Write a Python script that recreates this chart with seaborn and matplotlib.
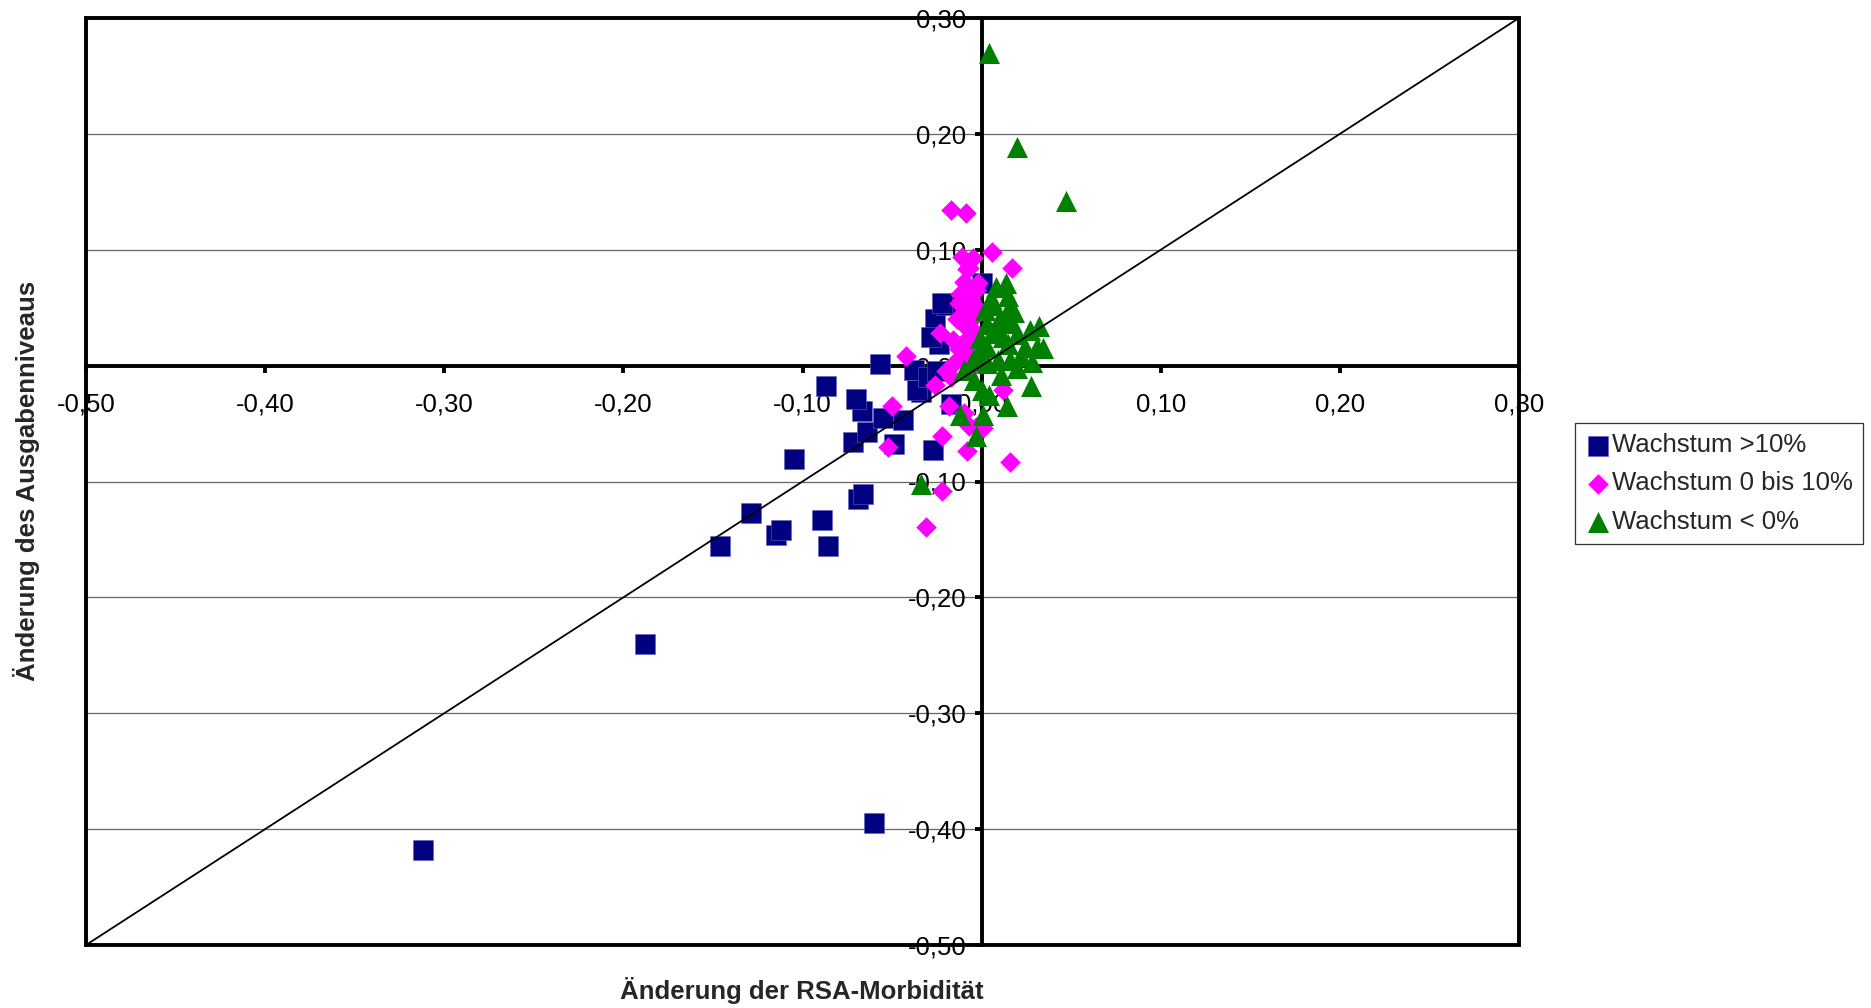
import numpy as np
import pandas as pd
import matplotlib
matplotlib.use("Agg")
import matplotlib.pyplot as plt
from matplotlib.patches import Rectangle
from matplotlib.ticker import FuncFormatter
import seaborn as sns

OUT_PATH = "out.png"

# Wachstum >10%
blue_x = [-0.312, -0.060, -0.188, -0.146, -0.129, -0.115, -0.112, -0.089, -0.086,
          -0.069, -0.066, -0.105, -0.072, -0.064, -0.049, -0.044, -0.055, -0.067,
          -0.070, -0.087, -0.057, -0.027, -0.026, -0.020, -0.024, -0.034, -0.038,
          0.000, -0.022, -0.017, -0.036, -0.028, -0.030, -0.025]
blue_y = [-0.418, -0.395, -0.240, -0.156, -0.127, -0.146, -0.142, -0.133, -0.156,
          -0.115, -0.111, -0.081, -0.066, -0.057, -0.068, -0.047, -0.045, -0.039,
          -0.029, -0.018, 0.001, -0.073, 0.040, 0.052, 0.019, -0.023, -0.004,
          0.071, 0.054, -0.033, -0.021, 0.025, -0.010, -0.005]

# Wachstum 0 bis 10%
pink_x = [-0.017, -0.009, 0.006, 0.017, -0.011, -0.005, -0.007, -0.008, -0.010,
          -0.003, -0.002, -0.006, -0.0125, -0.008, -0.014, -0.010, -0.023, -0.016,
          -0.009, -0.0125, -0.006, -0.004, -0.002, -0.011, -0.005, -0.042, -0.026,
          -0.050, -0.018, -0.052, -0.022, -0.008, -0.003, 0.001, -0.007, 0.012,
          0.016, -0.022, -0.031, -0.010, -0.020, -0.015, -0.017, -0.004, -0.012,
          -0.007, -0.001]
pink_y = [0.134, 0.132, 0.098, 0.084, 0.094, 0.093, 0.084, 0.083, 0.072,
          0.065, 0.071, 0.057, 0.054, 0.047, 0.040, 0.035, 0.028, 0.022,
          0.022, 0.014, 0.010, 0.030, 0.045, 0.005, 0.000, 0.008, -0.017,
          -0.035, -0.035, -0.070, -0.061, -0.074, -0.053, -0.054, -0.052, -0.021,
          -0.083, -0.108, -0.139, -0.041, -0.005, 0.003, -0.010, 0.052, 0.062,
          0.038, 0.020]

# Wachstum < 0%
green_x = [0.004, 0.020, 0.047, 0.0136, 0.008, 0.0145, 0.002, 0.015, 0.008,
           0.032, 0.027, 0.020, 0.024, 0.0145, 0.003, -0.002, 0.031, 0.016,
           0.009, 0.034, 0.018, 0.0275, 0.014, 0.001, -0.012, -0.003, -0.004,
           -0.010, 0.003, 0.020, 0.000, -0.034, 0.005, 0.010, 0.012, 0.006,
           0.003, 0.022, 0.011, 0.028, -0.005, 0.007, 0.017, 0.004, -0.001]
green_y = [0.270, 0.189, 0.142, 0.071, 0.068, 0.060, 0.048, 0.048, 0.034,
           0.034, 0.031, 0.027, 0.016, 0.019, 0.016, 0.011, 0.016, 0.005,
           0.005, 0.015, 0.046, -0.018, -0.035, -0.043, -0.043, -0.061, -0.012,
           -0.004, 0.002, -0.002, -0.021, -0.102, 0.058, 0.040, 0.025, 0.028,
           0.036, 0.008, -0.008, 0.003, 0.005, 0.052, 0.037, -0.025, 0.024]

series_labels = ["Wachstum >10%", "Wachstum 0 bis 10%", "Wachstum < 0%"]
axis_ticks = [-0.5, -0.4, -0.3, -0.2, -0.1, 0.0, 0.1, 0.2, 0.3]
diag = [-0.5, 0.3]


def fmt(v, pos=None):
    return f"{v + 0.0:.2f}".replace(".", ",").replace("-0,00", "0,00")


def main():
    sns.set_theme(style="white")
    plt.rcParams["font.family"] = ["Liberation Sans", "DejaVu Sans"]

    fig = plt.figure(figsize=(18.71, 10.08), dpi=100)
    ax = fig.add_axes([86 / 1871, 1 - 945 / 1008, (1519 - 86) / 1871, (945 - 18) / 1008])

    df_b = pd.DataFrame({"x": blue_x, "y": blue_y})
    df_p = pd.DataFrame({"x": pink_x, "y": pink_y})
    df_g = pd.DataFrame({"x": green_x, "y": green_y})

    sns.scatterplot(data=df_b, x="x", y="y", marker="s", s=200, color="#000080",
                    edgecolor="#6060c0", linewidth=0.4, label=series_labels[0],
                    ax=ax, zorder=3)
    sns.scatterplot(data=df_p, x="x", y="y", marker="D", s=110, color="#ff00ff",
                    edgecolor="#ff00ff", linewidth=0, label=series_labels[1],
                    ax=ax, zorder=4)
    sns.scatterplot(data=df_g, x="x", y="y", marker="^", s=230, color="#008000",
                    edgecolor="#008000", linewidth=0, label=series_labels[2],
                    ax=ax, zorder=5)

    sns.lineplot(x=diag, y=diag, color="black", lw=1.3, ax=ax, zorder=6,
                 legend=False)

    ax.set_xlim(-0.5, 0.3)
    ax.set_ylim(-0.5, 0.3)
    ax.set_xticks(axis_ticks)
    ax.set_yticks(axis_ticks)
    ax.xaxis.set_major_formatter(FuncFormatter(fmt))
    ax.yaxis.set_major_formatter(FuncFormatter(fmt))

    # horizontal gridlines only
    ax.yaxis.grid(True, color="#666666", lw=0.9)
    ax.xaxis.grid(False)
    ax.set_axisbelow(True)

    # axes crossing at zero
    ax.spines["left"].set_position("zero")
    ax.spines["bottom"].set_position("zero")
    ax.spines["top"].set_visible(False)
    ax.spines["right"].set_visible(False)
    for sp in ["left", "bottom"]:
        ax.spines[sp].set_linewidth(2.8)
        ax.spines[sp].set_color("black")
        ax.spines[sp].set_zorder(2)
    ax.tick_params(axis="both", which="major", direction="out", length=5,
                   width=2.8, color="black", labelsize=18.5, labelcolor="black")
    ax.tick_params(axis="x", pad=14)
    ax.tick_params(axis="y", pad=6)
    ax.tick_params(bottom=True, left=True)

    # outer frame
    ax.add_patch(Rectangle((0, 0), 1, 1, transform=ax.transAxes, fill=False,
                           lw=2.8, edgecolor="black", clip_on=False, zorder=7))

    ax.set_xlabel("")
    ax.set_ylabel("")
    fig.text(802 / 1871, 1 - 990 / 1008, "Änderung der RSA-Morbidität",
             ha="center", va="center", fontsize=18.5, fontweight="bold")
    fig.text(27 / 1871, 1 - 481 / 1008, "Änderung des Ausgabenniveaus",
             ha="center", va="center", rotation=90, fontsize=18.5, fontweight="bold")

    leg = ax.legend(loc="upper left", bbox_to_anchor=(1575 / 1871, 1 - 423 / 1008),
                    bbox_transform=fig.transFigure, fontsize=18.5, frameon=True,
                    fancybox=False, edgecolor="black", handletextpad=0.05,
                    handlelength=1.0, borderpad=0.4, labelspacing=0.55,
                    borderaxespad=0)
    leg.get_frame().set_linewidth(0.9)

    fig.savefig(OUT_PATH, dpi=100, facecolor="white")
    plt.close(fig)


if __name__ == "__main__":
    main()
